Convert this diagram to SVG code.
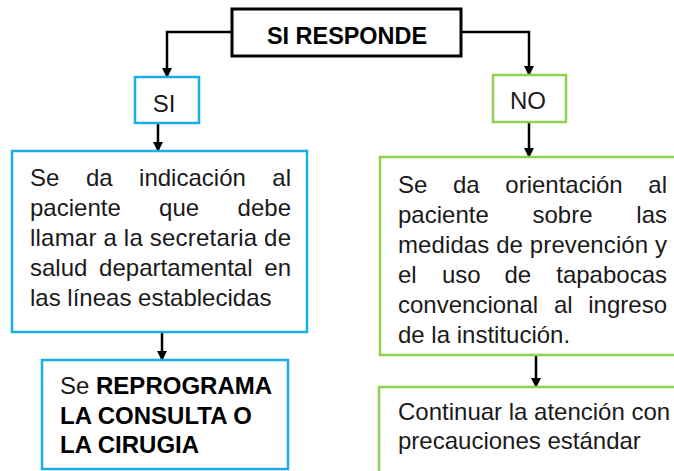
<svg xmlns="http://www.w3.org/2000/svg" width="674" height="471" viewBox="0 0 674 471">
<defs>
<marker id="ah" viewBox="0 0 10 10" refX="9" refY="5" markerWidth="10" markerHeight="10" markerUnits="userSpaceOnUse" orient="auto">
<path d="M0,0 L10,5 L0,10 z" fill="#000"/>
</marker>
</defs>
<style>
.t{font-family:"Liberation Sans",Arial,sans-serif;font-size:24px;fill:#1a1a1a}
.b{font-weight:bold;fill:#000}
.blue{fill:#fff;stroke:#1aaee8;stroke-width:2.5}
.green{fill:#fff;stroke:#8fd14f;stroke-width:2.5}
.black{fill:#fff;stroke:#000;stroke-width:3}
.c{fill:none;stroke:#000;stroke-width:2.5}
</style>
<rect width="674" height="471" fill="#fff"/>
<g id="connectors">
<path class="c" d="M232,32 H167 V77" marker-end="url(#ah)"/>
<path class="c" d="M461,32 H529 V75" marker-end="url(#ah)"/>
<path class="c" d="M158,123 V151" marker-end="url(#ah)"/>
<path class="c" d="M529,122 V157" marker-end="url(#ah)"/>
<path class="c" d="M162,332 V360" marker-end="url(#ah)"/>
<path class="c" d="M536,355 V387" marker-end="url(#ah)"/>
</g>
<g id="si-responde">
<rect class="black" x="232" y="9" width="229" height="47"/>
<text class="t b" x="347" y="44" text-anchor="middle" textLength="160" lengthAdjust="spacingAndGlyphs">SI RESPONDE</text>
</g>
<g id="si">
<rect class="blue" x="135" y="77" width="64" height="46"/>
<text class="t" x="164" y="112" text-anchor="middle">SI</text>
</g>
<g id="no">
<rect class="green" x="493" y="75" width="73" height="47"/>
<text class="t" x="528" y="109" text-anchor="middle">NO</text>
</g>
<g id="indicacion">
<rect class="blue" x="12" y="151" width="295" height="181"/>
<text class="t" y="186"><tspan x="30">Se</tspan><tspan x="85.9">da</tspan><tspan x="139.1">indicación</tspan></text>
<text class="t" x="291" y="186" text-anchor="end">al</text>
<text class="t" y="216"><tspan x="30">paciente</tspan><tspan x="159.1">que</tspan></text>
<text class="t" x="291" y="216" text-anchor="end">debe</text>
<text class="t" x="30" y="246" textLength="261" lengthAdjust="spacing">llamar a la secretaria de</text>
<text class="t" y="276"><tspan x="30">salud</tspan><tspan x="99.1">departamental</tspan></text>
<text class="t" x="291" y="276" text-anchor="end">en</text>
<text class="t" x="30" y="306">las líneas establecidas</text>
</g>
<g id="orientacion">
<rect class="green" x="380" y="157" width="310" height="198"/>
<text class="t" y="193"><tspan x="398">Se</tspan><tspan x="453">da</tspan><tspan x="505.3">orientación</tspan></text>
<text class="t" x="667" y="193" text-anchor="end">al</text>
<text class="t" y="223"><tspan x="398">paciente</tspan><tspan x="532.5">sobre</tspan></text>
<text class="t" x="667" y="223" text-anchor="end">las</text>
<text class="t" x="398" y="253" textLength="269" lengthAdjust="spacing">medidas de prevención y</text>
<text class="t" y="283"><tspan x="398">el</tspan><tspan x="441.9">uso</tspan><tspan x="504.4">de</tspan></text>
<text class="t" x="667" y="283" text-anchor="end">tapabocas</text>
<text class="t" y="313"><tspan x="398">convencional</tspan><tspan x="553.9">al</tspan></text>
<text class="t" x="667" y="313" text-anchor="end">ingreso</text>
<text class="t" x="398" y="343">de la institución.</text>
</g>
<g id="reprograma">
<rect class="blue" x="42" y="360" width="246" height="109"/>
<text class="t" x="60" y="394">Se <tspan class="b">REPROGRAMA</tspan></text>
<text class="t b" x="60" y="424">LA CONSULTA O</text>
<text class="t b" x="60" y="453">LA CIRUGIA</text>
</g>
<g id="continuar">
<rect class="green" x="379" y="387" width="310" height="100"/>
<text class="t" x="398" y="420">Continuar la atención con</text>
<text class="t" x="398" y="449">precauciones estándar</text>
</g>
</svg>
